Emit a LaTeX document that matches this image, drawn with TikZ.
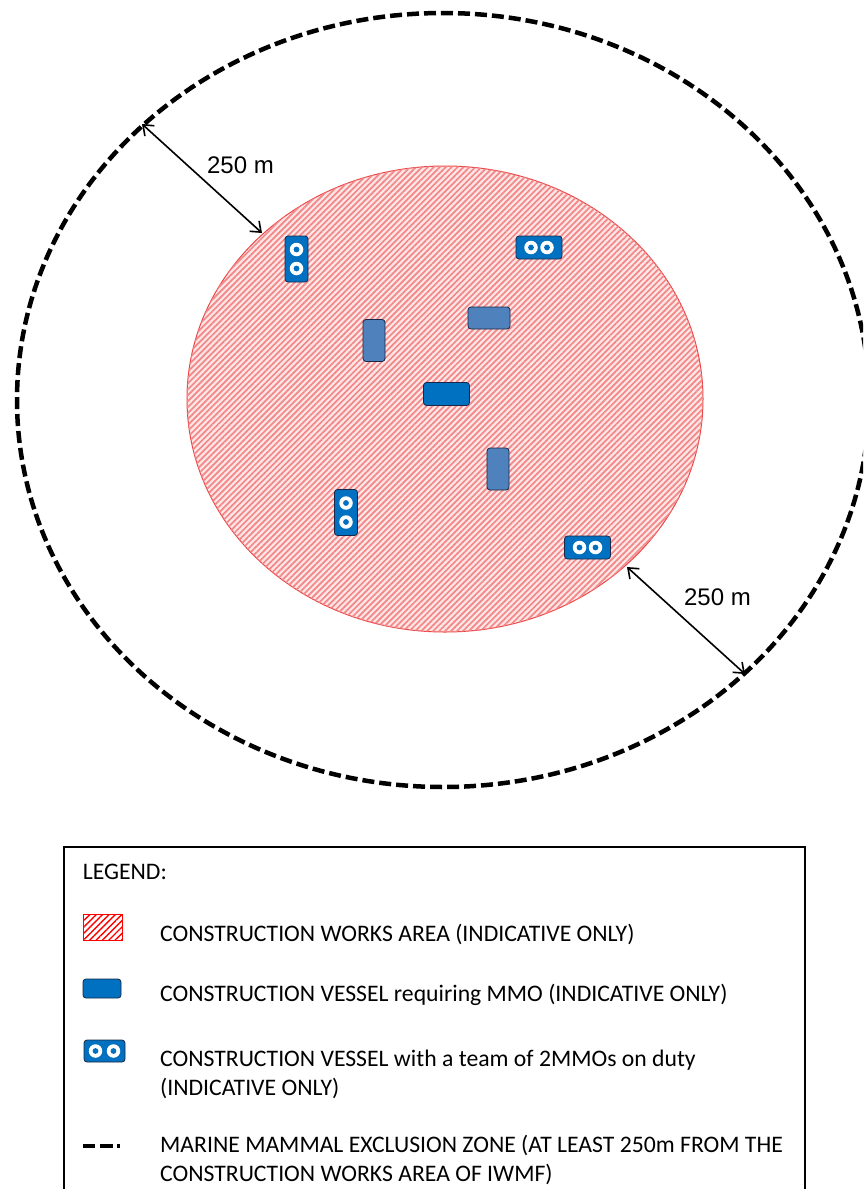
\documentclass[tikz,border=0pt]{standalone}
\usepackage{fontspec}
\setmainfont{Carlito}
\newfontfamily\arialfont{Liberation Sans}
\usetikzlibrary{patterns.meta,arrows.meta,calc}
\definecolor{vdark}{RGB}{0,112,192}
\definecolor{vlight}{RGB}{79,129,189}
\definecolor{vedge}{RGB}{25,40,70}
\definecolor{hatchred}{RGB}{242,135,135}
\definecolor{areaedge}{RGB}{235,70,70}
\tikzset{
  zone/.style={line width=4.5pt, dash pattern=on 12pt off 5pt},
  area/.style={draw=areaedge, line width=1pt, fill=red!10,
    postaction={pattern={Lines[angle=45,distance=4.2pt,line width=1.7pt]}, pattern color=hatchred}},
  vessel/.style={draw=vedge, line width=0.8pt, rounded corners=3pt, inner sep=0pt},
  hvessel/.style={vessel, fill=vdark, minimum width=46pt, minimum height=23pt},
  uvessel/.style={vessel, fill=vdark, minimum width=23pt, minimum height=46pt},
  hlight/.style={vessel, fill=vlight, minimum width=42pt, minimum height=22pt},
  ulight/.style={vessel, fill=vlight, minimum width=22pt, minimum height=42pt},
  eye/.style={circle, fill=white, minimum size=13.5pt, inner sep=0pt,
    path picture={\fill[vdark] (path picture bounding box.center) circle (2.9pt);}},
  dim/.style={line width=1.6pt, {Straight Barb[length=9pt,width=14pt]}-{Straight Barb[length=9pt,width=14pt]}},
  dimlabel/.style={font=\arialfont\fontsize{24}{28}\selectfont, inner sep=0pt},
  legtext/.style={font=\fontsize{23.7}{28.7}\selectfont, anchor=base west, inner sep=0pt},
}
\begin{document}
\begin{tikzpicture}[x=1pt,y=-1pt]
\useasboundingbox (0,0) rectangle (863,1189);
\fill[white] (0,0) rectangle (863,1189);
\clip (0,0) rectangle (863,1189);

% exclusion zone and works area
\draw[zone] (443,400) ellipse [x radius=426pt, y radius=387pt];
\draw[area] (445,399) ellipse [x radius=258pt, y radius=233pt];

% vessels with MMO teams
\node[uvessel] (m1) at (296.5,259) {};
\node[eye] (m1a) at ($(m1)+(0,-9.5)$) {};
\node[eye] (m1b) at ($(m1)+(0,9.5)$) {};
\node[hvessel] (m2) at (539,247.5) {};
\node[eye] (m2a) at ($(m2)+(-8,0)$) {};
\node[eye] (m2b) at ($(m2)+(8,0)$) {};
\node[uvessel] (m3) at (346,512.5) {};
\node[eye] (m3a) at ($(m3)+(0,-9.5)$) {};
\node[eye] (m3b) at ($(m3)+(0,9.5)$) {};
\node[hvessel] (m4) at (587.5,547.5) {};
\node[eye] (m4a) at ($(m4)+(-8,0)$) {};
\node[eye] (m4b) at ($(m4)+(8,0)$) {};

% other vessels
\node[ulight] (l1) at (374,340.5) {};
\node[hlight] (l2) at (489,318) {};
\node[hvessel] (d1) at (446.5,394) {};
\node[ulight] (l3) at (498,469) {};

% dimension arrows
\coordinate (o1) at (142,124);
\coordinate (i1) at (262,233);
\coordinate (i2) at (627,567);
\coordinate (o2) at (745,674);
\draw[dim] (o1) -- (i1);
\draw[dim] (i2) -- (o2);
\node[dimlabel] (t1) at (240.5,165) {250 m};
\node[dimlabel] (t2) at (717.5,597) {250 m};

% legend
\draw[line width=2pt] (64,847) rectangle (805,1210);
\node[legtext] (lg) at (82.7,879) {LEGEND:};
\draw[draw=red, line width=1pt, pattern={Lines[angle=45,distance=4.5pt,line width=1.4pt]}, pattern color=red] (83,914) rectangle (122,940);
\node[legtext] (lt1) at (160,941) {CONSTRUCTION WORKS AREA (INDICATIVE ONLY)};
\node[vessel, fill=vdark, minimum width=38pt, minimum height=19pt] (lv) at (102,988.5) {};
\node[legtext] (lt2) at (160,1001.5) {CONSTRUCTION VESSEL requiring MMO (INDICATIVE ONLY)};
\node[vessel, fill=vdark, minimum width=41pt, minimum height=22pt] (lm) at (104.5,1051) {};
\node[eye] (lma) at ($(lm)+(-9,0)$) {};
\node[eye] (lmb) at ($(lm)+(9,0)$) {};
\node[legtext] (lt3) at (160,1066) {CONSTRUCTION VESSEL with a team of 2MMOs on duty};
\node[legtext] (lt3b) at (160,1095) {(INDICATIVE ONLY)};
\coordinate (ds) at (83,1146);
\coordinate (de) at (120,1146);
\draw[line width=3.5pt, dash pattern=on 12pt off 5pt on 13pt off 4pt on 3pt off 20pt] (ds) -- (de);
\node[legtext] (lt4) at (160,1152.5) {MARINE MAMMAL EXCLUSION ZONE (AT LEAST 250m FROM THE};
\node[legtext] (lt4b) at (160,1181) {CONSTRUCTION WORKS AREA OF IWMF)};
\end{tikzpicture}
\end{document}
